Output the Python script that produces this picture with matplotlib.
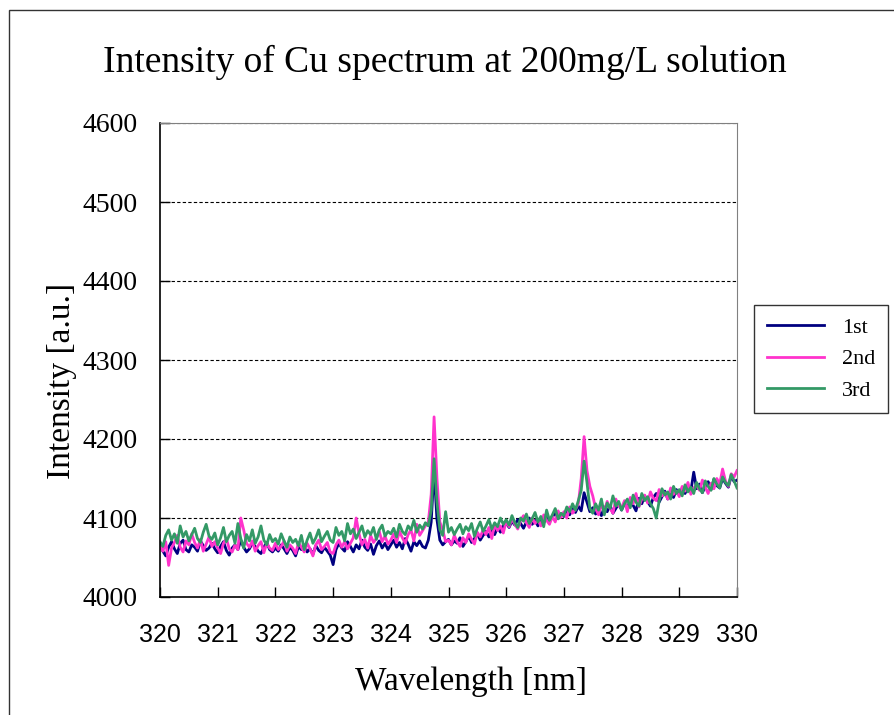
import numpy as np
import matplotlib.pyplot as plt
from matplotlib.patches import Rectangle

# wavelength grid, 0.05 nm step
wavelength = np.linspace(320, 330, 201)

# intensity (one row per nm)
first = [
    4066, 4058, 4052, 4063, 4070, 4061, 4055, 4068, 4072, 4060, 4057, 4066, 4063, 4058, 4071, 4065, 4059, 4062, 4068, 4061,
    4056, 4064, 4070, 4059, 4053, 4062, 4066, 4060, 4072, 4063, 4057, 4061, 4068, 4064, 4058, 4055, 4063, 4069, 4060, 4057,
    4062, 4058, 4066, 4061, 4055, 4063, 4059, 4052, 4064, 4060, 4066, 4057, 4061, 4054, 4065, 4059, 4056, 4063, 4058, 4053,
    4041, 4060, 4068, 4062, 4058, 4070, 4064, 4057, 4066, 4061, 4072, 4063, 4059, 4067, 4054, 4065, 4071, 4062, 4068, 4060,
    4066, 4072, 4063, 4069, 4061, 4074, 4067, 4058, 4070, 4065, 4071, 4064, 4062, 4072, 4095, 4162, 4098, 4072, 4066, 4070,
    4073, 4066, 4071, 4068, 4075, 4064, 4070, 4077, 4069, 4074, 4080, 4072, 4078, 4083, 4076, 4085, 4079, 4088, 4082, 4090,
    4094, 4088, 4096, 4091, 4098, 4093, 4087, 4095, 4100, 4092, 4097, 4090, 4099, 4094, 4103, 4096, 4101, 4107, 4099, 4105,
    4102, 4110, 4104, 4112, 4107, 4115, 4109, 4132, 4120, 4108, 4113, 4105, 4110, 4103, 4114, 4108, 4116, 4106, 4112, 4118,
    4110, 4119, 4113, 4122, 4116, 4109, 4125, 4118, 4128, 4121, 4115, 4126, 4131, 4120, 4127, 4134, 4124, 4130, 4126, 4136,
    4129, 4138, 4131, 4140, 4134, 4158, 4137, 4143, 4132, 4140, 4146, 4136, 4149, 4141, 4138, 4150, 4144, 4139, 4153, 4146,
    4148,
]
second = [
    4065, 4058, 4070, 4040, 4062, 4069, 4078, 4063, 4057, 4071, 4066, 4080, 4069, 4062, 4073, 4058, 4067, 4076, 4064, 4070,
    4062, 4055, 4068, 4074, 4061, 4057, 4066, 4060, 4100, 4085, 4068, 4063, 4071, 4058, 4065, 4070, 4056, 4068, 4062, 4059,
    4068, 4060, 4064, 4071, 4058, 4066, 4062, 4055, 4069, 4063, 4057, 4068, 4061, 4052, 4066, 4072, 4060, 4064, 4069, 4057,
    4055, 4066, 4072, 4063, 4070, 4061, 4068, 4075, 4100, 4080, 4066, 4073, 4062, 4078, 4069, 4074, 4083, 4070, 4077, 4067,
    4072, 4080, 4069, 4083, 4075, 4068, 4079, 4085, 4071, 4092, 4078, 4084, 4090, 4095, 4130, 4228, 4150, 4095, 4085, 4070,
    4072, 4066, 4078, 4070, 4064, 4075, 4069, 4080, 4073, 4067, 4082, 4076, 4085, 4079, 4088, 4074, 4092, 4084, 4090, 4081,
    4096, 4089, 4099, 4092, 4086, 4097, 4103, 4094, 4088, 4100, 4093, 4098, 4090, 4104, 4097, 4092, 4102, 4095, 4109, 4101,
    4108, 4100, 4114, 4106, 4111, 4118, 4150, 4203, 4160, 4140, 4128, 4112, 4104, 4117, 4109, 4121, 4112, 4106, 4124, 4115,
    4113, 4122, 4108, 4126, 4118, 4131, 4114, 4124, 4129, 4119, 4133, 4125, 4122, 4136, 4128, 4132, 4124, 4138, 4130, 4134,
    4127, 4140, 4134, 4145, 4130, 4138, 4142, 4135, 4148, 4139, 4131, 4144, 4137, 4150, 4143, 4162, 4147, 4140, 4156, 4152,
    4160,
]
third = [
    4070, 4064, 4078, 4085, 4072, 4080, 4068, 4090, 4076, 4083, 4071, 4079, 4087, 4074, 4069, 4082, 4092, 4077, 4073, 4081,
    4066, 4075, 4088, 4070, 4078, 4083, 4068, 4093, 4074, 4062, 4079, 4071, 4085, 4068, 4076, 4090, 4072, 4066, 4079, 4070,
    4074, 4067, 4080, 4071, 4063, 4076, 4069, 4073, 4065, 4078, 4060, 4072, 4081, 4068, 4075, 4085, 4070, 4077, 4083, 4072,
    4069, 4088, 4078, 4083, 4071, 4093, 4080, 4086, 4074, 4082, 4090, 4076, 4084, 4079, 4088, 4073, 4085, 4091, 4077, 4083,
    4080, 4087, 4076, 4092, 4083, 4079, 4090, 4085, 4097, 4082, 4091, 4086, 4094, 4090, 4110, 4175, 4120, 4085, 4078, 4108,
    4082, 4088, 4079, 4086, 4092, 4080, 4089, 4084, 4093, 4077, 4087, 4095, 4083, 4090, 4098, 4086, 4094, 4089, 4100, 4092,
    4098, 4091, 4103, 4094, 4088, 4100, 4096, 4105, 4093, 4099, 4107, 4095, 4102, 4089, 4110, 4097, 4104, 4112, 4099, 4106,
    4103, 4114, 4108, 4118, 4110, 4122, 4135, 4172, 4145, 4112, 4106, 4118, 4110, 4124, 4104, 4119, 4112, 4128, 4115, 4121,
    4110, 4118, 4124, 4113, 4129, 4120, 4115, 4131, 4122, 4127, 4118, 4112, 4100, 4121, 4137, 4129, 4133, 4124, 4140, 4131,
    4136, 4128, 4142, 4133, 4139, 4131, 4145, 4137, 4132, 4147, 4140, 4135, 4150, 4143, 4138, 4152, 4145, 4141, 4155, 4147,
    4138,
]

series_names = ['1st', '2nd', '3rd']
series_colors = ['#000080', '#FF33CC', '#339966']

x_ticks = list(range(320, 331))
y_ticks = list(range(4000, 4601, 100))

serif = 'Liberation Serif'

fig = plt.figure(figsize=(8.94, 7.15), dpi=100)
ax = fig.add_axes([160 / 894, 1 - 597 / 715, 577 / 894, 474 / 715])

# outer chart frame
fig.patches.append(Rectangle((9 / 894, -0.05), 1.1, 1 - 10 / 715 + 0.05,
                             transform=fig.transFigure, fill=False,
                             edgecolor='#333333', linewidth=1.0))

for ys, name, col in zip([first, second, third], series_names, series_colors):
    ax.plot(wavelength, ys, color=col, linewidth=2.0, label=name)

ax.set_xlim(320, 330)
ax.set_ylim(4000, 4600)
ax.set_xticks(x_ticks)
ax.set_yticks(y_ticks)
ax.set_xticklabels([str(t) for t in x_ticks], family='Liberation Sans', fontsize=18)
ax.set_yticklabels([str(t) for t in y_ticks], family=serif, fontsize=20)
ax.tick_params(direction='in', length=7, width=1)
ax.tick_params(axis='x', pad=19)
ax.tick_params(axis='y', pad=16)
ax.grid(axis='y', color='black', linestyle=(0, (3, 2)), linewidth=0.8)

for side in ['top', 'right']:
    ax.spines[side].set_color('#808080')
for side in ['left', 'bottom']:
    ax.spines[side].set_color('black')
    ax.spines[side].set_linewidth(1.2)

ax.set_xlabel('Wavelength [nm]', family=serif, fontsize=24)
ax.xaxis.set_label_coords(0.539, -0.1475)
ax.set_ylabel('Intensity [a.u.]', family=serif, fontsize=24)
ax.yaxis.set_label_coords(-0.143, 0.456)
fig.text(445 / 894, 1 - 62 / 715, 'Intensity of Cu spectrum at 200mg/L solution',
         family=serif, fontsize=27, ha='center', va='center')

leg = fig.legend(loc='center', bbox_to_anchor=(821 / 894, 1 - 359 / 715),
                 prop={'family': serif, 'size': 16}, frameon=True, fancybox=False,
                 edgecolor='black', handlelength=2.6, labelspacing=0.5,
                 borderpad=0.55)
leg.get_frame().set_linewidth(1.0)

fig.savefig('out.png', dpi=100)
